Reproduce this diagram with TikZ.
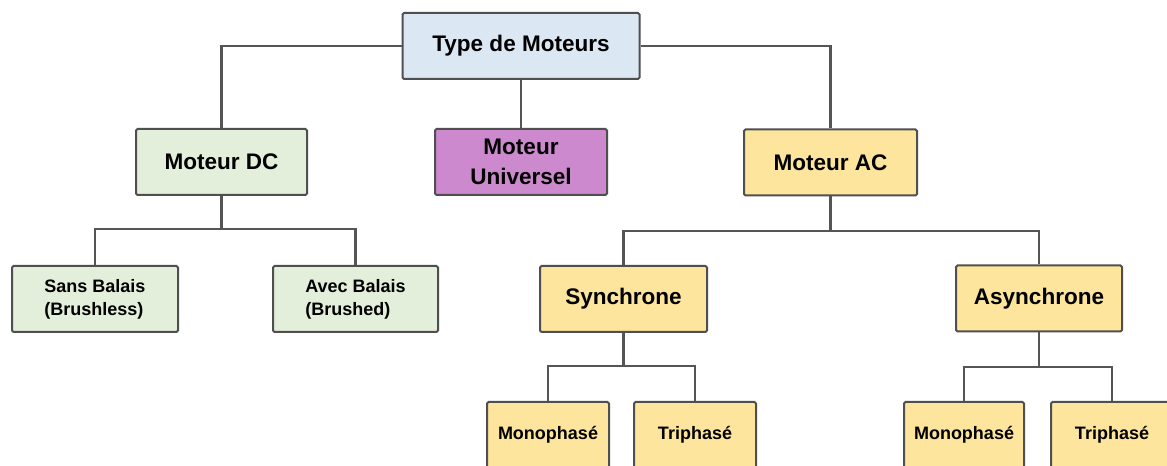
\documentclass[tikz,border=0pt]{standalone}
\usepackage{fontspec}
\setmainfont{Liberation Sans}
\newdimen\px
\px=0.75pt
\definecolor{bluefill}{HTML}{DCE7F4}
\definecolor{greenfill}{HTML}{E3EFDA}
\definecolor{purplefill}{HTML}{CD89CD}
\definecolor{yellowfill}{HTML}{FDE59D}
\definecolor{edgegray}{HTML}{4F4F4F}
\definecolor{linegray}{HTML}{555555}
\tikzset{
  box/.style={draw=edgegray, line width=2\px, rounded corners=1.5\px, inner sep=0pt,
    minimum height=66\px, align=center, font=\fontsize{16.9}{22.5}\selectfont\bfseries},
  smallbox/.style={box, font=\fontsize{13.5}{17.3}\selectfont\bfseries},
  conn/.style={draw=linegray, line width=2.2\px}
}
\begin{document}
\begin{tikzpicture}[x=0.75pt, y=-0.75pt]
\path[use as bounding box] (0,0) rectangle (1167,466);
\clip (0,0) rectangle (1167,466);
\fill[white] (0,0) rectangle (1167,466);

\node[box, fill=bluefill, minimum width=237\px] (top) at (521,46) {Type de Moteurs};
\node[box, fill=greenfill, minimum width=171\px] (dc) at (221.5,162) {Moteur DC};
\node[box, fill=purplefill, minimum width=172\px] (univ) at (521,162) {Moteur\\Universel};
\node[box, fill=yellowfill, minimum width=173\px] (ac) at (830.5,162.5) {Moteur AC};

\node[smallbox, fill=greenfill, minimum width=166\px, align=left] (sans) at (95,299) {Sans Balais\\(Brushless)};
\node[smallbox, fill=greenfill, minimum width=165\px, align=left] (avec) at (355.5,299) {Avec Balais\\(Brushed)};
\node[box, fill=yellowfill, minimum width=167\px] (sync) at (623.5,299) {Synchrone};
\node[box, fill=yellowfill, minimum width=166\px] (async) at (1039,298.5) {Asynchrone};

\node[smallbox, fill=yellowfill, minimum width=122\px] (mono1) at (548,435) {Monophasé};
\node[smallbox, fill=yellowfill, minimum width=122\px] (tri1) at (695,435) {Triphasé};
\node[smallbox, fill=yellowfill, minimum width=120\px] (mono2) at (964,435) {Monophasé};
\node[smallbox, fill=yellowfill, minimum width=122\px] (tri2) at (1112,435) {Triphasé};

\coordinate (dcbus) at (221.5,229);
\coordinate (acbus) at (830.5,231);
\coordinate (syncbus) at (623.5,366);
\coordinate (asyncbus) at (1039,367);

\draw[conn] (top.west) -| (dc.north);
\draw[conn] (top.east) -| (ac.north);
\draw[conn] (top.south) -- (univ.north);
\draw[conn] (dc.south) -- (dcbus);
\draw[conn] (dcbus) -| (sans.north);
\draw[conn] (dcbus) -| (avec.north);
\draw[conn] (ac.south) -- (acbus);
\draw[conn] (acbus) -| (sync.north);
\draw[conn] (acbus) -| (async.north);
\draw[conn] (sync.south) -- (syncbus);
\draw[conn] (syncbus) -| (mono1.north);
\draw[conn] (syncbus) -| (tri1.north);
\draw[conn] (async.south) -- (asyncbus);
\draw[conn] (asyncbus) -| (mono2.north);
\draw[conn] (asyncbus) -| (tri2.north);
\end{tikzpicture}
\end{document}
